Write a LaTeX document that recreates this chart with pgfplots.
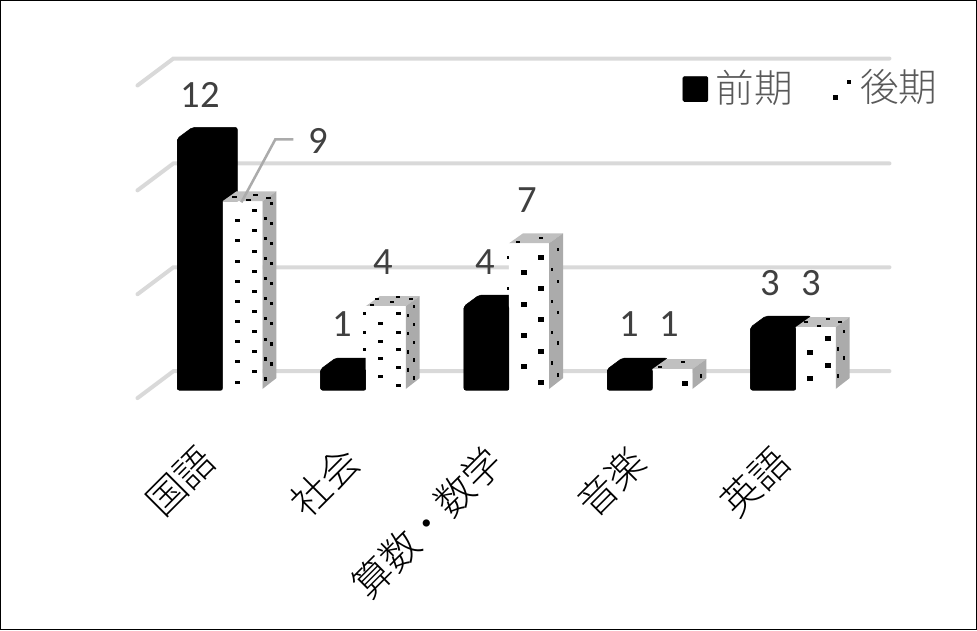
\documentclass[border=0pt]{standalone}
\usepackage{fontspec}
\usepackage{pgfplots}
\pgfplotsset{compat=1.18}
\setmainfont{Carlito}
\newfontfamily\cjk{Noto Sans CJK JP Light}
\definecolor{gridc}{HTML}{D9D9D9}
\definecolor{labelc}{HTML}{595959}
\definecolor{numc}{HTML}{404040}
\definecolor{topc}{HTML}{C0C0C0}
\definecolor{sidec}{HTML}{ABABAB}
% decoration tables are given in picture pixels, this maps them on the axis
\pgfplotsset{/pgfplots/table/pxmap/.style={
    x expr=(\thisrow{x}-220)/143.5,
    y expr=(390-\thisrow{y})/21}}
% top and side faces of a bar: #1 category, #2 value
\newcommand{\blackfaces}[2]{%
    \pgfmathsetmacro\xa{#1-0.3}%
    \pgfmathsetmacro\xb{#1-0.196}%
    \pgfmathsetmacro\xc{#1+0.118}%
    \pgfmathsetmacro\xd{#1+0.018}%
    \pgfmathsetmacro\yt{#2+0.524}%
    \addplot[fill=black,draw=black,rounded corners=1.5pt] coordinates
        {(\xa,#2)(\xb,\yt)(\xc,\yt)(\xc,0.5)(\xd,0)(\xa,0)} -- cycle;
}
\newcommand{\whitefaces}[2]{%
    \pgfmathsetmacro\xa{#1+0.014}%
    \pgfmathsetmacro\xb{#1+0.112}%
    \pgfmathsetmacro\xc{#1+0.293}%
    \pgfmathsetmacro\xd{#1+0.391}%
    \pgfmathsetmacro\yt{#2+0.476}%
    \addplot[fill=topc,draw=none] coordinates
        {(\xa,#2)(\xb,\yt)(\xd,\yt)(\xc,#2)} -- cycle;
    \addplot[fill=sidec,draw=none] coordinates
        {(\xc,#2)(\xd,\yt)(\xd,0.571)(\xc,0.05)} -- cycle;
}
\newcommand{\pxnode}[3]{\node[font=\fontsize{29}{30}\selectfont,text=numc,inner sep=0pt]
    at (axis cs:{(#1-220)/143.5},{(390-#2)/21}) {#3};}
\begin{document}
\begin{tikzpicture}
\begin{axis}[
    scale only axis,
    width=732.75pt, height=472.5pt,
    xmin=-1.533, xmax=5.275,
    ymin=-11.43, ymax=18.57,
    axis line style={black,line width=1pt},
    major tick length=0pt,
    ytick=\empty,
    xtick={0,1,2,3,4},
    xticklabels={国語,社会,算数・数学,音楽,英語},
    x tick label style={font=\fontsize{29}{30}\selectfont\cjk,text=black,
        xshift=-18pt,yshift=141pt,rotate=45,anchor=north east,inner sep=0pt},
    every axis plot/.append style={forget plot},
    legend style={at={(rel axis cs:0.963,0.895)},anchor=north east,draw=none,fill=none,
        font=\fontsize{29}{30}\selectfont\cjk,text=labelc,legend columns=2,
        inner sep=0pt,/tikz/every even column/.append style={column sep=24pt}},
]
\addlegendimage{legend image code/.code={
    \path[draw=none] (0pt,0pt) -- (22.5pt,0pt);
    \fill[black,rounded corners=1pt] (0pt,-11pt) rectangle (18.75pt,7.75pt);}}
\addlegendentry{前期}
\addlegendimage{legend image code/.code={
    \path[draw=none] (0pt,0pt) -- (22.5pt,0pt);
    \fill[black] (4.5pt,-9pt) rectangle (7pt,-6.5pt);
    \fill[black] (15pt,2.5pt) rectangle (17.5pt,5pt);}}
\addlegendentry{後期}

% back gridlines with the stub on the floor side
\addplot[gridc,line width=3pt,line cap=round] table[pxmap]{
x y
137 398
173 371
890 371
};
\addplot[gridc,line width=3pt,line cap=round] table[pxmap]{
x y
137 294
173 267
890 267
};
\addplot[gridc,line width=3pt,line cap=round] table[pxmap]{
x y
137 190
173 163
890 163
};
\addplot[gridc,line width=3pt,line cap=round] table[pxmap]{
x y
137 85
173 58
890 58
};

\blackfaces{0}{12}
\blackfaces{1}{1}
\blackfaces{2}{4}
\blackfaces{3}{1}
\blackfaces{4}{3}

\whitefaces{0}{9}
\whitefaces{1}{4}
\whitefaces{2}{7}
\whitefaces{3}{1}
\whitefaces{4}{3}

% 後期 front faces
\addplot[ybar,bar width=30pt,bar shift=16.5pt,fill=white,draw=none]
    coordinates {(0,9)(1,4)(2,7)(3,1)(4,3)};
% 前期 front faces
\addplot[ybar,bar width=33.75pt,bar shift=-15.4pt,fill=black,draw=black,rounded corners=1.5pt]
    coordinates {(0,12)(1,1)(2,4)(3,1)(4,3)};

% dots on the white front faces
\addplot[only marks,mark=square*,mark size=1.1pt,mark options={black,xscale=1.5,yscale=.8}]
    table[pxmap]{
x y
237 220
237 240
237 261
237 281
237 301
237 321
237 341
237 361
237 382
254 210
254 230
254 251
254 271
254 291
254 311
254 331
254 351
254 371
380 323
380 341
380 358
380 376
398 313
398 332
398 349
398 367
398 385
};
\addplot[only marks,mark=square*,mark size=1.4pt,mark options={black,xscale=1.3,yscale=1}]
    table[pxmap]{
x y
541 257
541 288
541 319
541 351
541 382
524 272
524 304
524 335
524 366
685 383
828 338
810 352
828 365
810 378
};
% half dots on the left edge
\addplot[only marks,mark=square*,mark size=.7pt,mark options={black,xscale=.7,yscale=1.3}]
    table[pxmap]{
x y
364 313
364 332
364 349
508 257
508 288
};
% dots on the side faces
\addplot[only marks,mark=square*,mark size=.75pt,mark options={black,xscale=.6,yscale=1.4}]
    table[pxmap]{
x y
271 203
271 223
271 243
271 263
271 283
271 303
271 323
271 344
271 364
265 218
265 238
265 258
265 278
265 298
265 318
265 339
265 359
265 379
414 306
414 324
414 342
414 360
414 378
408 315
408 333
408 352
408 370
558 249
558 281
558 312
558 343
558 375
552 269
552 301
552 332
552 363
701 376
844 331
838 349
844 358
838 376
};
% dots on the top faces
\addplot[only marks,mark=square*,mark size=.8pt,mark options={black,xscale=1.5,yscale=.5}]
    table[pxmap]{
x y
234 196
255 194
248 199
268 197
377 299
398 297
392 302
411 299
372 305
518 241
541 237
660 367
683 362
806 322
828 319
819 326
840 322
};
% leader line of the 9
\addplot[sidec,line width=1.9pt] table[pxmap]{
x y
293 139
275 139
241 202
};

\pxnode{200}{94}{12}
\pxnode{318}{141}{9}
\pxnode{342}{324}{1}
\pxnode{383}{262}{4}
\pxnode{485}{262}{4}
\pxnode{527}{200}{7}
\pxnode{629}{324}{1}
\pxnode{670}{324}{1}
\pxnode{771}{283}{3}
\pxnode{812}{283}{3}
\end{axis}
\end{tikzpicture}
\end{document}
